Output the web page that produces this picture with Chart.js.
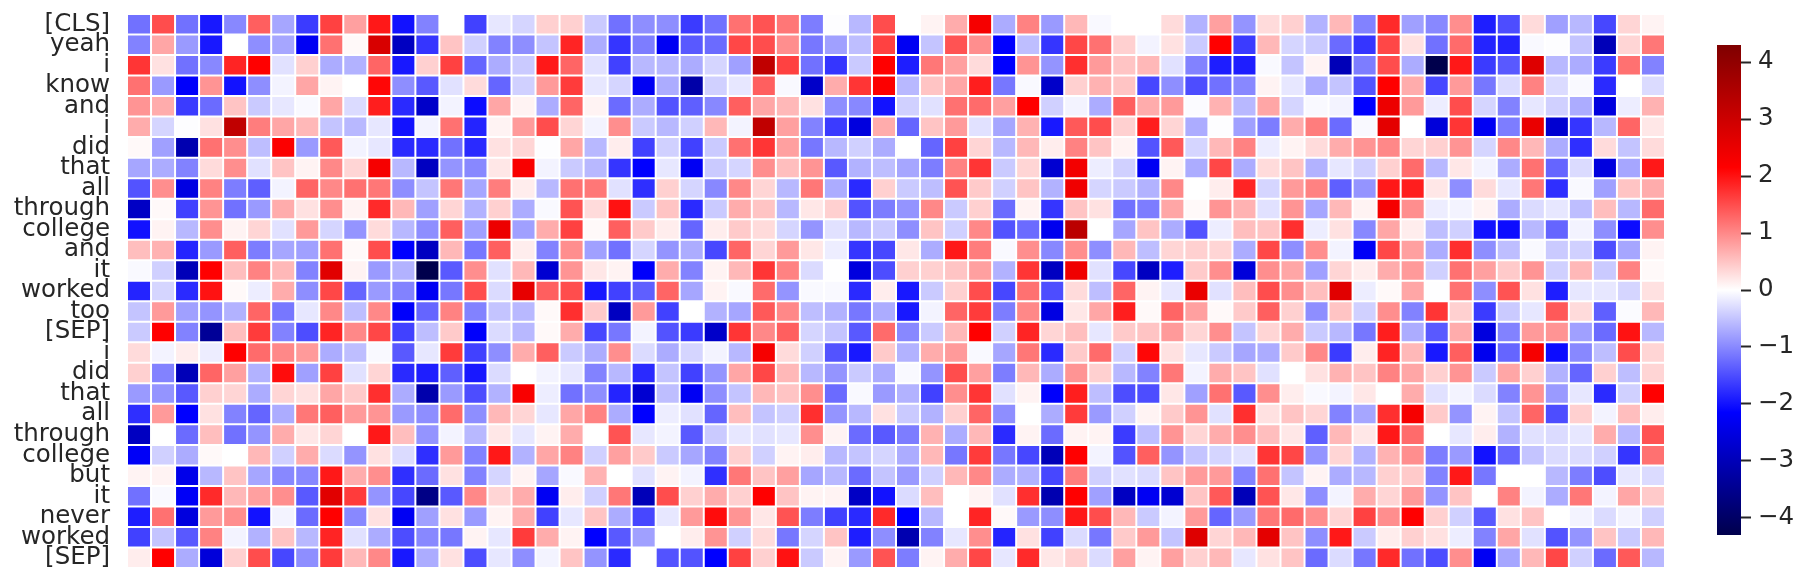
<!DOCTYPE html>
<html>
<head>
<meta charset="utf-8">
<title>Token heatmap</title>
<script src="https://cdn.jsdelivr.net/npm/chart.js@4"></script>
<style>
  html, body { margin: 0; background: #fff; }
  #wrap { position: relative; width: 1805px; height: 581px; overflow: hidden; }
  canvas { position: absolute; top: 0; display: block; }
  #heat { left: 0; }
  #cbar { left: 1690px; }
</style>
</head>
<body>
<div id="wrap">
  <canvas id="heat" width="1690" height="581"></canvas>
  <canvas id="cbar" width="115" height="581"></canvas>
</div>
<script>
// ====== DATA ======
const tokens = ['[CLS]','yeah','i','know','and','i','did','that','all','through','college','and','it','worked','too','[SEP]','i','did','that','all','through','college','but','it','never','worked','[SEP]'];
const colorbarTicks = [-4,-3,-2,-1,0,1,2,3,4];
const valueLimit = 4.3;

// one row per token, 64 dimensions each
const cells = [
  [-1.2,1.5,-1.2,-1.95,-1,1.35,-.75,-1.65,1.6,.8,1.95,-2,-1.05,0,-1.6,-.2,-.35,.4,.4,-.45,-1.2,-.95,-.95,-1.65,-1.2,1.2,1.45,1.15,-1.1,-.02,-.6,1.5,0,.1,.7,2.3,-.7,1.05,-.85,.6,-.05,0,0,.3,-.65,.8,-.9,.3,.4,-.65,.6,-1.05,1.8,-.8,-1,.95,-1.9,-1.5,.3,-.8,-.6,-1.55,.35,.1],
  [-1.05,.75,-.85,-1.95,0,-.95,-.75,-2.3,1.2,.05,2.8,-2.9,-1.7,.5,-.4,-1.05,-.95,-.5,1.85,-.7,-1.7,-1.1,-2.3,-1.4,-1.25,1.55,1.5,.95,-1.15,-.8,-.55,1.6,-2.3,-.5,1.45,.95,-2.15,-.55,-1.7,1.55,1.2,.4,-.1,.25,-.45,2.15,-1.65,.6,-.35,-.45,-1.25,-1.7,1.55,.25,-1.2,1.25,-1.85,-1.85,-.05,-.02,-.5,-3,.35,1.15],
  [1.7,.25,-1.2,-1,1.85,2.15,-.25,.4,-.7,-.65,1.3,-1.95,.4,1.6,-1.3,-.7,-.45,1.95,1.3,-.25,-1.6,-.6,-.6,-.7,-.35,-.8,3.2,1.6,-1.2,-1.7,-.45,2.15,-1.9,1.15,.8,.3,-2.15,.9,-.9,1.75,.85,.5,.6,-.25,-1.05,-1.9,-1.9,-.05,-.5,.1,-3,-1.1,1.5,-.7,-4.3,1.95,-1.65,-1.4,2.7,-.6,-.7,-1.65,1.2,-1.05],
  [1.2,-.85,-2.2,.9,-2,-.95,-.1,.75,.1,0,2.1,-.95,-1.4,-.25,.3,-1.3,-.4,.85,1.65,-.2,-.35,-2.3,-.7,-3.2,-.4,-.2,1.35,-.05,-2.8,.7,1.7,2.2,-.6,.5,.75,1.9,-1.15,-.05,-2.8,.4,.65,.5,-1.55,-.95,-1.5,-1.2,-1,.1,-.2,-.7,-.5,-1.45,2.15,.7,-1.55,.85,-1.15,-.3,1.05,-.3,-.05,-1.8,0,-.3],
  [.9,.7,-1.65,-1.25,.5,-.45,-.2,-.05,.75,-.3,1.9,-1.8,-2.8,-.1,-2.05,.75,.1,-.7,1.3,.1,-1.25,-.7,-1.45,-1.35,-1,1.35,.75,.6,.25,-.95,-1,-2,-.4,-.25,1.2,1.25,.8,2.15,-.4,-.1,-.7,1.35,.7,.85,-.03,.65,-.6,.75,-.35,-.05,-.1,-2.15,2.45,.85,-.15,1.5,-.35,-1.05,-.2,-.4,-.7,-2.55,-.15,.65],
  [.7,-.35,-.02,.25,3.2,1.1,.75,.6,-.5,-.6,-.2,-2,-.1,1.2,-1.85,.1,.85,1.5,.35,-.1,.95,-.45,-.6,-.4,.6,-.1,3.2,.8,-1.05,-1.65,-2.55,.7,-1.3,.5,.85,-.25,-.75,.65,-1.95,1.4,1.5,.4,1.9,.35,-.7,-.02,-.8,-1.1,.7,1.1,-1.25,-.05,2.6,0,-2.6,1.7,-2.3,-1.1,2.5,-2.7,-1.7,-.6,1.3,.2],
  [.05,-.8,-3.1,1.2,.95,-.55,2.2,-.85,1.4,-.1,-.2,-1.8,-1.8,-1.2,-1.8,.25,.35,-.02,.75,-.6,.15,-1.6,-.4,-1.6,-.45,1.2,1.7,.8,-1.15,-.6,-.4,-.7,0,-1.3,1.6,.35,-.6,.6,.15,1.05,.5,.1,-1.45,1.4,-.35,.6,1.05,-.15,.1,.3,.7,.9,1,.35,.4,.9,-.35,1,.6,-.7,-1.75,.3,-.5,.3],
  [-.75,-.7,-1.05,.3,.95,-.25,.5,.1,1,.35,2.3,-.6,-2.9,-.9,-1,.2,2.25,-.1,-.45,-.6,-1.7,-2.15,-.2,-2.3,-.45,-.35,.95,.55,.9,-1.4,-.65,-.55,-.75,-1.1,1.05,1.7,-.45,.35,-2.7,2.35,-.15,-.4,-2.3,.1,-.7,1.55,-.7,.3,.5,-.65,-.2,-.4,.4,1.25,-.6,.2,-.1,-.7,1.2,-1.3,-.3,-2.55,-.75,1.95],
  [-1.45,.95,-2.5,1.05,-1.1,-1.35,-.1,1.3,1,1.2,1.15,-.95,-.5,1.15,-.75,1.1,.15,-.6,1.2,1.15,-.25,-1.75,.4,-.35,-1,1,.35,-.6,1.15,-.7,-1.8,.4,-.45,-.55,1.45,.45,-.4,.5,-.65,2.4,-.35,-.45,-.65,1,0,.15,1.85,-.35,.85,1.05,-1.35,-.9,1.95,1.9,.2,-.95,.3,-.2,1.15,-1.75,-.05,-.8,.5,.7],
  [-2.85,.05,-1.6,.9,-1.2,-.85,.7,.25,.95,.1,1.8,.6,-.8,.35,-.65,.4,-.7,-.05,1.45,.3,2,-.45,.5,-1.8,-.45,.7,.5,-.6,.2,.4,-1.45,-1.1,-.9,1,-.45,.4,-1.25,.1,-1.7,.5,.25,-1.2,-1.1,.75,.05,.9,.65,-.25,.9,-.75,.6,.1,2.3,.95,-.15,-.1,.1,-.7,-.3,-.2,-.55,.55,-.6,1.25],
  [-2,.1,-.6,.95,.1,.35,-.25,.85,-.35,-.9,.3,-.6,-.95,1.35,-.8,2.45,-.8,.7,1.6,.05,1.35,.45,.15,-1.3,.15,.45,.3,-.35,-.9,-.25,-.6,-.45,-.95,.5,-.4,1,-1.45,-1.25,-2.35,3.3,0,-.75,.5,-.7,-1.45,-.15,.55,.5,1.75,-.15,.25,-1,.75,.15,-.55,-.4,-2,-2.05,-.6,-1.3,-.1,-.95,-2.05,.95],
  [.55,.65,-1.85,-.85,1.35,-1.1,-.75,-.8,1.2,.05,1.5,-2.15,-2.9,.6,-1.15,1.35,.15,-1.05,.95,-.8,-1.2,-.35,-.9,-.7,-1.55,1.3,.35,.85,.2,-.15,-1.7,-1.55,.2,-.7,1.95,1.1,-.05,.95,-1,.95,-.95,.6,-.55,.35,.4,.35,-.7,1.55,-.95,.95,-.1,-2.25,1.55,.8,-.7,1.75,-.95,-.55,-.05,-.45,-.4,-1.5,-.75,.1],
  [-.05,-.4,-3,2.15,.55,1.05,.6,-1.05,2.65,.1,-.85,-.65,-4.3,-1.4,.95,-.25,.6,-2.7,.9,.2,.1,-2.2,.7,-1.05,.1,.6,1.7,1.05,-.3,-.01,-2.55,-1.5,.4,.4,.5,.8,-.65,1.7,-2.9,2.4,-.25,-1.55,-2.9,-1.9,.45,.95,-2.6,.95,.75,-.8,.35,.15,.7,.85,-.4,1.2,.8,.45,.9,-.4,.6,-.45,1.05,.05],
  [-1.85,-.35,-1.8,2,.05,-.15,.7,-.95,1.55,-1.3,-.85,-1.05,-2.3,-1.15,1.5,-.3,2.55,1.35,1.5,-1.95,-1.6,-1.35,1.3,-.75,.1,-.05,1.25,-.9,-.05,-.05,-1.8,.15,-1.95,-.45,.4,1.5,-1.55,1.2,-1.5,.3,-.55,1.3,.1,-.2,2.5,-.25,.55,1.5,.95,.55,2.65,-.15,.05,.75,-.01,1.2,-.95,1.45,.25,-1.9,-.2,-.2,-.35,.25],
  [-.5,.85,-.8,-.9,-.65,1.3,-1.15,-.2,1,-.55,1,-2.2,-1.3,1.05,-1.05,-.5,-.6,.05,1.75,.45,-2.9,.85,-1.6,0,-.65,-.75,1.4,1,-.55,-.65,-1.15,-.7,-1.95,-.1,1.3,1.65,-1.1,1,-2.5,.2,.75,1.9,.05,1.3,.8,.05,.45,1.35,.4,-.95,.5,-.4,.95,-1.05,1.7,.4,-1.65,-.45,-.2,1.4,.3,-1.35,-.03,.6],
  [-.45,2.15,-1.05,-3.4,.55,1.65,-1.05,-1.5,1.85,1,1.55,-1.6,-.55,.45,-2.2,-.3,-.6,.05,.7,-1.55,-1.15,-.1,-1.45,-1.65,-2.8,1.7,1,1.35,-.35,-.5,-1.4,1.25,-1,-.45,.6,2.15,-.4,1.85,.35,.55,-.2,.45,.5,.85,.35,.95,-.5,.35,.7,-.45,-.6,-1.15,1.9,-.7,-1.4,.7,-2.55,-1.05,.85,.9,-.8,-1.25,2,-.6],
  [.3,-.1,.15,-.15,2.15,1.25,1,.85,-.7,-.55,-.05,-1.4,-.2,1.65,-1.6,-.95,.7,1.35,-.45,-.7,.95,-.3,-.7,-.35,-.1,-.6,2.3,.3,-.4,-1.45,-1.95,.45,-.65,.7,.85,-.05,-.75,1.15,-1.8,.45,1.25,-.4,2.1,.25,-.2,-.45,-.75,-.7,.45,1,-1.65,.15,1.85,.6,-1.95,1.35,-2.35,-1.3,2.3,-2.05,-1,-.55,1.5,.35],
  [.4,-1.05,-3,1.3,.8,-.65,2.05,-.8,1.6,-.25,.35,-1.8,-1.9,-1.35,-1.95,-.3,0,-.1,-.2,-1.05,-.6,-1.8,-.5,-1.6,-.9,.75,1.55,.6,-.6,-.9,-.45,-.7,-.05,-.9,1.5,.8,-1.1,.6,-.7,.9,.4,-.6,-1.05,1.15,-.1,.7,.5,-.25,0,.25,.65,.5,1.05,.75,.4,.9,-.45,.75,.4,-.65,-1.3,.4,-.55,.35],
  [-.85,-.9,-1.4,.4,.35,-.7,.35,.25,.75,.45,1.75,-.7,-3.15,-.85,-1.5,-.65,2.25,-.15,-1.2,-.95,-1.85,-2.7,-.55,-2.3,-.95,-.5,.6,.5,.95,-1.25,-.05,-.85,-.65,-1.6,.95,1.7,-.25,.1,-2.2,1.9,-.55,-1.5,-1.5,.2,-.8,1.2,-1.4,.95,.15,-.05,-.1,.2,0,.7,-.25,-.1,-.3,-1.05,.9,-.85,-.2,-1.8,-.4,2.15],
  [-1.75,.85,-2.15,.25,-1.05,-1.3,-.7,1.15,1.35,.85,.9,-.85,-.95,1.25,-.95,.6,.35,-.2,.75,1.05,-.7,-2.15,-.15,-.25,-1.3,.55,-.5,-.4,1.75,-.9,-.6,.25,-.45,-.65,.4,1.3,-.95,0,-.7,1.65,-.85,-.4,.1,.45,.9,-.25,1.75,.25,.5,.35,-1.05,-.75,1.75,2.3,.45,-.9,.1,-.5,1.3,-1.5,.4,-.1,.55,.15],
  [-2.9,0,-1.25,.55,-1.2,-.9,.7,.2,.35,0,1.95,.55,-.9,-.1,-.6,.2,-.2,.1,.7,0,1.45,-.2,-.1,-1.4,-.45,-.2,-.25,-.2,.95,.1,-1.25,-1.4,-1.1,.65,-.7,.6,-1.8,.1,-1.25,.1,.1,-1.65,-.55,.9,.35,.7,.95,.55,.2,-1.35,.6,.2,1.95,1.25,0,-.2,.15,-.65,-.25,-.3,-.2,.7,-.6,1.45],
  [-2.25,-.4,-.7,.05,0,.6,-.4,.7,-.3,-.9,.25,-.3,-1.75,.85,-1.05,1.95,-.65,.75,1.05,-.4,.8,.45,-.45,-.75,-1.05,.4,-.4,.1,.15,-.6,-.5,-.35,-.7,.6,-1.15,1.65,-1.15,-1.55,-3,2.15,-.1,-1.45,1.35,-.9,-.5,-.35,-.25,1.7,1.55,-.9,.35,-.65,.65,.95,-1.1,-.85,-2,-1.3,-.5,-.3,-.3,-.4,-1.7,1.2],
  [.1,.1,-2.4,-.6,.5,-.75,-1,-1,1.95,.7,.95,-1.75,-1.25,.25,-1.05,-.35,.1,-.75,-.05,.65,0,-.25,.1,-.1,-1.75,1.15,.5,.8,-.75,-.6,-1.25,-.5,-.85,-.4,.6,1,-.7,-.65,-1.55,1.1,-.4,-.25,-.3,.5,.85,.85,-1.05,1.2,-.5,.1,-.7,-.6,.4,.45,-1.05,1.95,-1.15,0,0,-.6,-1.1,-1.5,-.2,-.3],
  [-1.2,-.05,-2.25,1.8,.6,.8,.95,-1.4,2.65,1.65,-.9,-1.55,-3.6,-1.4,1,.35,.7,-2.3,.15,-.4,1.15,-3,1.5,.4,.7,.4,2.15,.5,.1,.1,-2.85,-2,-.3,.55,0,.1,-.25,1.75,-3.1,2.15,-.8,-2.9,-2.3,-2.7,.5,1.4,-3,1.45,.2,-.95,-.1,.7,.35,.85,-.9,.5,0,1.05,-.1,-.7,1.15,-.1,.75,.45],
  [-1.9,1.2,-2.55,.85,.95,-2,-.1,-1.25,2.15,-1,.25,-2.3,-.8,.25,-.85,.1,.7,-1.6,-.2,.5,-.7,-1.55,-.2,.85,2.05,.9,.2,1.45,-1.1,-1.6,-1.8,1.8,-2.15,-.6,0,1.85,.05,-.85,-.95,1.95,1.5,.6,-.45,-.1,.85,-1.3,-.85,1.15,1.25,.95,.35,1.6,.95,2.15,.4,-.4,-1.4,.25,.5,0,-.1,-.3,-.1,-.4],
  [-1.6,-.5,-1.4,1.05,-.1,-.65,.5,-.6,1.85,-.25,-.7,-1.5,-1,-1.15,.1,-.2,1.65,.7,.1,-2.15,-1.4,-.8,0,.15,.9,-.4,.3,-1.15,-.35,.5,-1.9,-.95,-3.1,-1.05,-.2,.95,-1.85,.25,-1.6,-.3,-1.15,.45,.85,-.5,2.7,.35,.6,2.6,.5,-.95,1.95,-.45,.15,.4,.25,-.15,-1.05,.75,-.25,-1.45,-.9,.5,-.45,.6],
  [.15,2.15,-.7,-2.6,.4,1.5,-1.55,-.95,1.65,.6,1,-1.95,-.7,.25,-1.5,-.2,-.95,-.1,.5,-.9,-1.8,0,-1.45,-1.45,-2.15,1.6,.4,2,-.45,.1,-.85,1.45,-1.1,.1,.7,1.55,-.2,1.8,.2,.4,-.3,.8,.1,.8,.4,.6,-.2,.25,.5,-1.25,-.3,-1.15,1.8,-1.2,-1.5,.95,-2.3,-.75,.6,1.55,-.4,-1.25,1.4,-.6],
];

// ====== COLORS ======
const textColor = '#262626';
const seismicStops = [[0,0,76],[0,0,255],[255,255,255],[255,0,0],[127,0,0]];

function seismic(v) {
  const t = Math.max(0, Math.min(1, (v + valueLimit) / (2 * valueLimit))) * 4;
  const i = Math.min(3, Math.floor(t));
  const f = t - i;
  const a = seismicStops[i], b = seismicStops[i + 1];
  return `rgb(${a.map((c, k) => Math.round(c + (b[k] - c) * f)).join(',')})`;
}

// ====== HEATMAP ======
// every column is a dataset of floating horizontal bars, one per token
const columnCount = cells[0].length;
const columnDatasets = [];
for (let c = 0; c < columnCount; c++) {
  columnDatasets.push({
    data: cells.map(() => [c, c + 1]),
    backgroundColor: cells.map(row => seismic(row[c])),
    borderColor: '#fff',
    borderWidth: 1,
    borderSkipped: false,
    inflateAmount: 0,
    barPercentage: 1,
    categoryPercentage: 1,
    grouped: false,
  });
}

new Chart(document.getElementById('heat'), {
  type: 'bar',
  data: { labels: tokens, datasets: columnDatasets },
  options: {
    indexAxis: 'y',
    responsive: false,
    animation: false,
    events: [],
    layout: { padding: { left: 0, right: 25, top: 14, bottom: 13 } },
    plugins: { legend: { display: false }, tooltip: { enabled: false } },
    scales: {
      x: { type: 'linear', min: 0, max: columnCount, display: false },
      y: {
        type: 'category',
        grid: { display: false, drawTicks: false },
        border: { display: false },
        afterFit: s => { s.width = 127; s.paddingTop = 0; s.paddingBottom = 0; },
        ticks: {
          autoSkip: false,
          padding: 17,
          color: textColor,
          font: { family: '"DejaVu Sans"', size: 24.5 },
        },
      },
    },
  },
});

// ====== COLORBAR ======
function barGradient(ctx) {
  const area = ctx.chart.chartArea;
  if (!area) return '#fff';
  const g = ctx.chart.ctx.createLinearGradient(0, area.bottom, 0, area.top);
  seismicStops.forEach((s, i) => g.addColorStop(i / 4, `rgb(${s.join(',')})`));
  return g;
}

new Chart(document.getElementById('cbar'), {
  type: 'bar',
  data: {
    labels: [''],
    datasets: [{
      data: [[-valueLimit, valueLimit]],
      backgroundColor: barGradient,
      borderWidth: 0,
      barPercentage: 1,
      categoryPercentage: 1,
    }],
  },
  options: {
    responsive: false,
    animation: false,
    events: [],
    layout: { padding: { left: 27, right: 0, top: 45, bottom: 46 } },
    plugins: { legend: { display: false }, tooltip: { enabled: false } },
    scales: {
      x: { display: false },
      y: {
        type: 'linear',
        position: 'right',
        min: -valueLimit,
        max: valueLimit,
        afterBuildTicks: s => { s.ticks = colorbarTicks.map(v => ({ value: v })); },
        afterFit: s => { s.width = 64; },
        grid: { drawOnChartArea: false, tickLength: 10, tickWidth: 2, tickColor: textColor },
        border: { display: false },
        ticks: {
          padding: 7,
          color: textColor,
          callback: v => String(v).replace('-', '\u2212'),
          font: { family: '"DejaVu Sans"', size: 24.5 },
        },
      },
    },
  },
});
</script>
</body>
</html>
